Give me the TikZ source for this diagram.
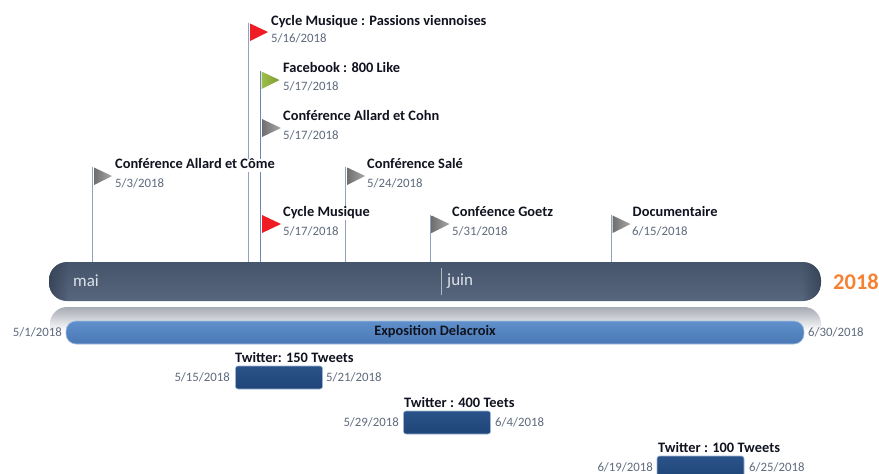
\documentclass[tikz,border=0pt]{standalone}
\usepackage{fontspec}
\setmainfont{Carlito}
\usetikzlibrary{calc,fadings}
\definecolor{titlec}{HTML}{10131F}
\definecolor{datec}{HTML}{5E6A7C}
\definecolor{polec}{HTML}{8FA3C0}
\definecolor{darkpole}{HTML}{6C87AE}
\definecolor{mainA}{HTML}{46556B}
\definecolor{mainB}{HTML}{57657D}
\definecolor{mainEnd}{HTML}{2F3B4E}
\definecolor{blueA}{HTML}{5F90CC}
\definecolor{blueB}{HTML}{4A78B4}
\definecolor{blueE}{HTML}{A5C0E2}
\definecolor{navyA}{HTML}{2A5389}
\definecolor{navyB}{HTML}{1F4578}
\definecolor{navyE}{HTML}{9DB4D3}
\definecolor{monthc}{HTML}{DDE2EA}
\definecolor{yearc}{HTML}{F58233}
\definecolor{reflc}{HTML}{A6AAB3}
\definecolor{flagred}{HTML}{EE1C25}
\definecolor{flaggreen}{HTML}{A0BE4A}
\definecolor{flaggreenB}{HTML}{7F9C32}
\definecolor{flaggrey}{HTML}{6F6F6F}
\definecolor{flaggreyB}{HTML}{A8A8A8}
\tikzset{
  titlelab/.style={anchor=west,font=\fontsize{14.4}{15}\selectfont\bfseries,text=titlec,fill=white,inner xsep=0.5pt,inner ysep=0.5pt,text height=9.5pt,text depth=3pt,yshift=-2pt},
  datelab/.style={font=\fontsize{12.8}{14}\selectfont,text=datec,inner sep=0pt},
  pole/.style={draw=polec,line width=1pt},
  longbar/.style={rounded corners=10pt,top color=blueA,bottom color=blueB,draw=blueE,line width=0.6pt,minimum width=738pt,minimum height=23pt,inner sep=0pt},
  tweetbar/.style={rounded corners=2.5pt,top color=navyA,bottom color=navyB,draw=navyE,line width=0.6pt,minimum width=87pt,minimum height=23pt,inner sep=0pt},
  monthlab/.style={font=\fontsize{17}{18}\selectfont,text=monthc,inner sep=0pt,anchor=west},
}
% #1 name, #2 pole x, #3 top y, #4 flag colour, #5 second colour
\newcommand{\flagmark}[5]{%
  \coordinate (#1top) at (#2,#3);
  \coordinate (#1foot) at (#2,262);
  \draw[pole] (#1top) -- (#1foot);
  \shade[left color=#4,right color=#5]
    ($(#1top)+(1.5,0.5)$) -- ($(#1top)+(19.5,9)$) -- ($(#1top)+(1.5,18)$) -- cycle;
}
\begin{document}
\begin{tikzpicture}[x=1pt,y=-1pt]
\useasboundingbox (0,0) rectangle (879,474);
% flags and poles
\flagmark{fa}{92.5}{167}{flaggrey}{flaggreyB}
\flagmark{fb}{248.5}{23}{flagred}{flagred}
\flagmark{fc}{260}{71}{flaggreen}{flaggreenB}
\draw[darkpole,line width=1pt] (fctop) -- (fcfoot);
\shade[left color=flaggrey,right color=flaggreyB] (262,119) -- (281,128) -- (262,137) -- cycle;
\shade[left color=flagred,right color=flagred] (262,215) -- (281,224) -- (262,233) -- cycle;
\flagmark{fd}{345.7}{167}{flaggrey}{flaggreyB}
\flagmark{fe}{430}{215}{flaggrey}{flaggreyB}
\flagmark{ff}{611}{215}{flaggrey}{flaggreyB}
% event titles
\node[titlelab] (t1) at (270.5,20) {Cycle Musique : Passions viennoises};
\node[titlelab] (t2) at (282.5,67.5) {Facebook : 800 Like};
\node[titlelab] (t3) at (282.5,115.5) {Conférence Allard et Cohn};
\node[titlelab] (t4) at (114.5,163.5) {Conférence Allard et Côme};
\node[titlelab] (t5) at (366.5,163.5) {Conférence Salé};
\node[titlelab] (t6) at (282.5,211.5) {Cycle Musique};
\node[titlelab] (t7) at (451.5,211.5) {Conféence Goetz};
\node[titlelab] (t8) at (632,211.5) {Documentaire};
% event dates
\node[datelab,anchor=west] (d1) at (271,38.5) {5/16/2018};
\node[datelab,anchor=west] (d2) at (283,86) {5/17/2018};
\node[datelab,anchor=west] (d3) at (283,135) {5/17/2018};
\node[datelab,anchor=west] (d4) at (115,183) {5/3/2018};
\node[datelab,anchor=west] (d5) at (367,183) {5/24/2018};
\node[datelab,anchor=west] (d6) at (283,231) {5/17/2018};
\node[datelab,anchor=west] (d7) at (452,231) {5/31/2018};
\node[datelab,anchor=west] (d8) at (632,231) {6/15/2018};
% reflection: rounded top corners, fading downward
\begin{scope}
  \clip[rounded corners=17pt] (50,307) rectangle (821,360);
  \shade[top color=reflc,bottom color=white] (50,307) rectangle (821,331);
\end{scope}
% main bar: pill, darker towards its two ends
\begin{scope}
  \clip[rounded corners=18pt] (49,262) rectangle (821,301);
  \shade[top color=mainA,bottom color=mainB] (49,262) rectangle (821,301);
  \fill[mainEnd,path fading=east,opacity=0.7] (49,262) rectangle (68,301);
  \fill[mainEnd,path fading=west,opacity=0.7] (802,262) rectangle (821,301);
\end{scope}
\node[monthlab] (mai) at (73,281) {mai};
\node[monthlab] (juin) at (447,281) {juin};
\coordinate (divtop) at (441.5,268);
\coordinate (divbot) at (441.5,295);
\draw[monthc,line width=0.7pt,opacity=0.7] (divtop) -- (divbot);
\node[font=\fontsize{22.5}{24}\selectfont\bfseries,text=yearc,inner sep=0pt,anchor=west] (year) at (833,282) {2018};
% long bar
\node[longbar] (expo) at (435,332.5) {};
\node[font=\fontsize{14.4}{15}\selectfont\bfseries,text=titlec,inner sep=0pt] (expol) at (435,331.5) {Exposition Delacroix};
\node[datelab,anchor=east] (es) at (62,332) {5/1/2018};
\node[datelab,anchor=west] (ee) at (808,332) {6/30/2018};
% twitter bars
\node[tweetbar] (b1) at (279,377.5) {};
\node[titlelab,inner sep=0pt,fill=none] (bt1) at (235,357) {Twitter: 150 Tweets};
\node[datelab,anchor=east] (bs1) at (230,377) {5/15/2018};
\node[datelab,anchor=west] (be1) at (326,377) {5/21/2018};
\node[tweetbar] (b2) at (447,422.5) {};
\node[titlelab,inner sep=0pt,fill=none] (bt2) at (404,402) {Twitter : 400 Teets};
\node[datelab,anchor=east] (bs2) at (399,422) {5/29/2018};
\node[datelab,anchor=west] (be2) at (495,422) {6/4/2018};
\node[tweetbar] (b3) at (700.5,467.5) {};
\node[titlelab,inner sep=0pt,fill=none] (bt3) at (658,447.5) {Twitter : 100 Tweets};
\node[datelab,anchor=east] (bs3) at (653,467) {6/19/2018};
\node[datelab,anchor=west] (be3) at (749,467) {6/25/2018};
\end{tikzpicture}
\end{document}
